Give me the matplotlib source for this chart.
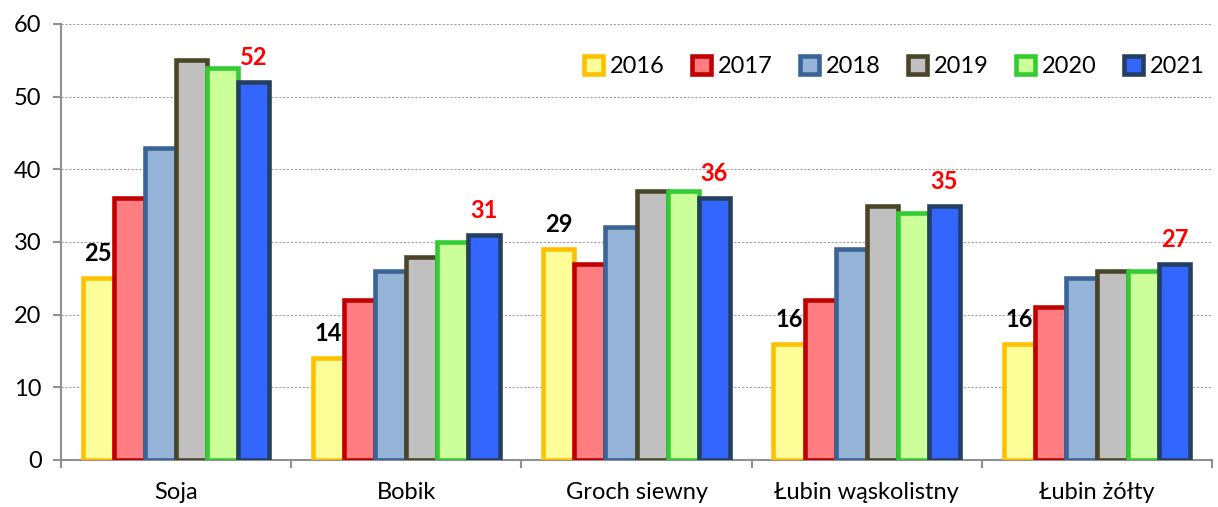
import matplotlib
matplotlib.use("Agg")
import matplotlib.pyplot as plt
import numpy as np

categories = ["Soja", "Bobik", "Groch siewny", "Łubin wąskolistny", "Łubin żółty"]
years = ["2016", "2017", "2018", "2019", "2020", "2021"]
v2016 = [25, 14, 29, 16, 16]
v2017 = [36, 22, 27, 22, 21]
v2018 = [43, 26, 32, 29, 25]
v2019 = [55, 28, 37, 35, 26]
v2020 = [54, 30, 37, 34, 26]
v2021 = [52, 31, 36, 35, 27]
series = [v2016, v2017, v2018, v2019, v2020, v2021]

faces = ["#FFFF99", "#FF7C80", "#95B3D7", "#C0C0C0", "#CCFF99", "#3366FF"]
edges = ["#FFC000", "#C00000", "#3A6396", "#4A452A", "#33CC33", "#243F60"]

plt.rcParams['font.family'] = ['Lato', 'DejaVu Sans']

fig = plt.figure(figsize=(12.18, 5.07), dpi=100)
ax = fig.add_axes([61/1218, 1-460/507, (1212-61)/1218, (460-24)/507])

x = np.arange(len(categories))
n = len(series)
bw = 0.135
for i, (vals, fc, ec, yr) in enumerate(zip(series, faces, edges, years)):
    pos = x + (i - (n-1)/2) * bw
    ax.bar(pos, vals, width=bw, color=fc, edgecolor=ec, linewidth=3.3, label=yr, zorder=3)
    if i == 0:
        for p, v in zip(pos, vals):
            ax.text(p, v + 1.8, str(v), ha='center', va='bottom', fontsize=17,
                    fontweight='bold', color='black', zorder=4)
    if i == n-1:
        for p, v in zip(pos, vals):
            ax.text(p, v + 1.8, str(v), ha='center', va='bottom', fontsize=17,
                    fontweight='bold', color='#FF0000', zorder=4)

ax.set_xlim(-0.5, len(categories) - 0.5)
ax.set_ylim(0, 60)
ax.set_yticks(range(0, 61, 10))
ax.set_xticks(x)
ax.set_xticklabels(categories, fontsize=17)
ax.set_xticks(np.arange(-0.5, len(categories), 1), minor=True)
ax.tick_params(axis='x', which='major', length=0, pad=16)
ax.tick_params(axis='x', which='minor', length=6, color='#909090', width=1.5)
ax.tick_params(axis='y', length=6, color='#909090', width=1.5, labelsize=17, pad=8)
ax.yaxis.grid(True, linestyle=(0, (2, 1.5)), color='#A0A0A0', linewidth=0.8, zorder=0)
ax.set_axisbelow(True)
for s in ['top', 'right']:
    ax.spines[s].set_visible(False)
for s in ['left', 'bottom']:
    ax.spines[s].set_color('#909090')
    ax.spines[s].set_linewidth(1.5)

leg = ax.legend(loc='upper right', bbox_to_anchor=(1.012, 0.975), ncol=6, frameon=False,
                fontsize=17, handlelength=0.8, handleheight=0.8, handletextpad=0.3,
                columnspacing=1.15)

fig.savefig("out.png", dpi=100)
